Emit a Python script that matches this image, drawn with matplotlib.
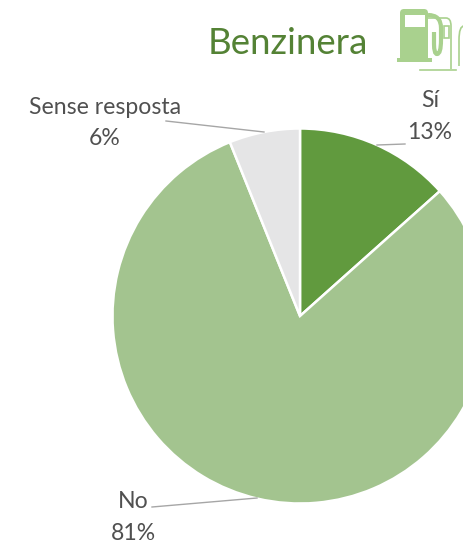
import matplotlib
matplotlib.use("Agg")
import matplotlib.pyplot as plt
from matplotlib.patches import FancyBboxPatch, Rectangle, PathPatch
from matplotlib.path import Path

plt.rcParams["font.family"] = ["Lato", "DejaVu Sans"]

categories = ["Sí", "No", "Sense resposta"]
shares = [13.4, 80.5, 6.1]
share_labels = ["13%", "81%", "6%"]
colors = ["#619A3E", "#A3C48F", "#E5E5E6"]

WIDTH, HEIGHT = 464, 544


def py(y):
    # picture pixels count from the top, the axes from the bottom
    return HEIGHT - y


fig = plt.figure(figsize=(WIDTH / 100, HEIGHT / 100), dpi=100)
ax = fig.add_axes([0, 0, 1, 1])

ax.pie(
    shares, colors=colors, startangle=90, counterclock=False,
    center=(300, py(316)), radius=187.5,
    wedgeprops={"edgecolor": "white", "linewidth": 1.8},
    frame=True,
)
ax.set_xlim(0, WIDTH)
ax.set_ylim(0, HEIGHT)
ax.set_aspect("equal")
ax.axis("off")

text_color = "#505050"
label_size = 16.6
label_pos = [(430, 100), (133, 502), (105, 107)]
pct_pos = [(430, 132), (133, 534), (105, 138)]
for name, pct, lp, pp in zip(categories, share_labels, label_pos, pct_pos):
    ax.text(lp[0], py(lp[1]), name, ha="center", va="center", color=text_color, fontsize=label_size)
    ax.text(pp[0], py(pp[1]), pct, ha="center", va="center", color=text_color, fontsize=label_size)

# leader lines
line_color = "#A6A6A6"
ax.plot([166, 264], [py(121), py(132)], color=line_color, lw=1)
ax.plot([152, 257], [py(507), py(498)], color=line_color, lw=1)
ax.plot([377, 405], [py(145), py(144)], color=line_color, lw=1)

ax.text(287.5, py(43), "Benzinera", ha="center", va="center", color="#548235", fontsize=26.4)

# fuel pump icon
icon = "#A9D18E"
ax.add_patch(FancyBboxPatch((400, py(62)), 28, 53, boxstyle="round,pad=0,rounding_size=4", fc=icon, ec="none"))
ax.add_patch(Rectangle((397, py(62)), 35, 4, fc=icon, ec="none"))
ax.add_patch(Rectangle((405, py(27)), 20, 12, fc="white", ec="none"))
hose = Path(
    [(428, py(15)), (441, py(15)), (441, py(28)), (441, py(40)), (441, py(54)), (437, py(54)), (434, py(54)), (434, py(44)), (434, py(32))],
    [Path.MOVETO, Path.CURVE3, Path.CURVE3, Path.LINETO, Path.CURVE3, Path.CURVE3, Path.CURVE3, Path.CURVE3, Path.LINETO],
)
ax.add_patch(PathPatch(hose, fc="none", ec=icon, lw=3))
ax.add_patch(PathPatch(Path([(428, py(18)), (446, py(18)), (451, py(18)), (451, py(26)), (451, py(69))],
                            [Path.MOVETO, Path.LINETO, Path.CURVE3, Path.CURVE3, Path.LINETO]), fc="none", ec=icon, lw=1.2))
ax.plot([420, 456], [py(70), py(70)], color=icon, lw=1.2)
ax.add_patch(Rectangle((444, py(38)), 5, 12, fc="none", ec=icon, lw=1.2))
ax.add_patch(PathPatch(Path([(459, py(66)), (459, py(40)), (459, py(26)), (464, py(26))],
                            [Path.MOVETO, Path.LINETO, Path.CURVE3, Path.CURVE3]), fc="none", ec=icon, lw=1.2))

fig.savefig("out.png", dpi=100)
